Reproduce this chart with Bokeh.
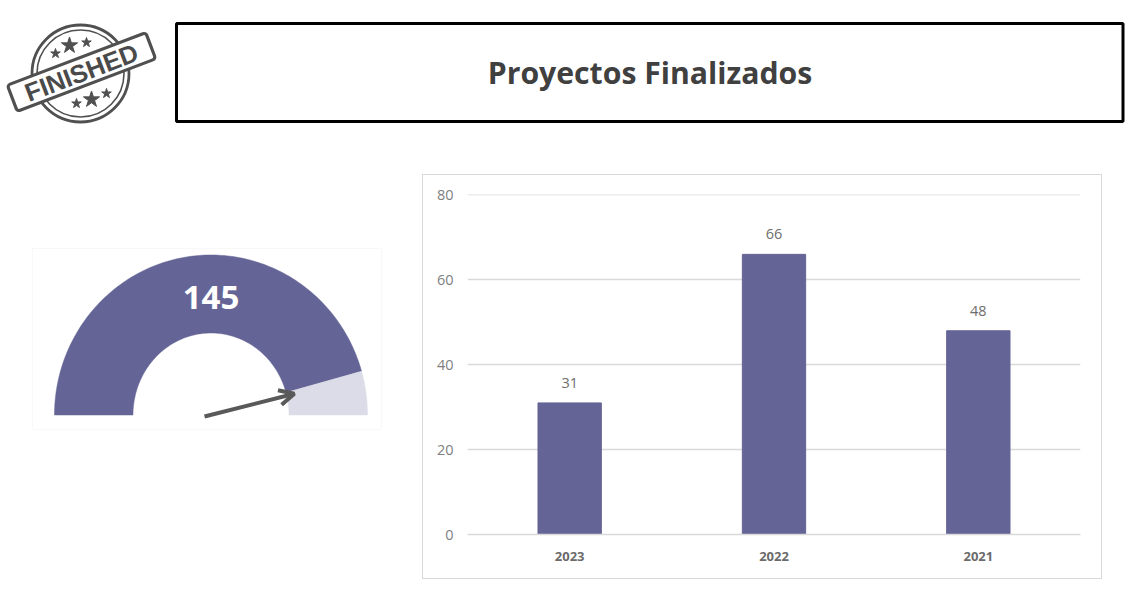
import numpy as np
from bokeh.core.properties import value
from bokeh.embed import file_html
from bokeh.layouts import column, row
from bokeh.models import Arrow, FactorRange, OpenHead, Range1d
from bokeh.plotting import figure
from bokeh.resources import INLINE

title_text = "Proyectos Finalizados"
stamp_text = "FINISHED"
years = ["2023", "2022", "2021"]
projects = [31, 66, 48]
y_ticks = [0, 20, 40, 60, 80]
gauge_value = 145
gauge_max = 159

PURPLE = "#656496"
LIGHT = "#dcdce8"
FONT = "Open Sans"


def blank(w, h, xr, yr, top=0, bottom=0, **kw):
    f = figure(width=w, height=h, x_range=Range1d(*xr), y_range=Range1d(*yr),
               output_backend="svg", toolbar_location=None,
               min_border=0, min_border_left=0, min_border_right=0,
               min_border_top=top, min_border_bottom=bottom, outline_line_color=None, **kw)
    f.axis.visible = False
    f.grid.visible = False
    return f


# ---- stamp (figure pixels match the page: x 0-172, y 0-132)
stamp = blank(172, 132, (0, 172), (132, 0))
INK = "#505050"
cx, cy = 80, 73
stamp.circle(x=[cx], y=[cy], radius=48.5, fill_color=None, line_color=INK, line_width=2.8)
stamp.circle(x=[cx], y=[cy], radius=43.5, fill_color=None, line_color=INK, line_width=1.6)
ang = np.deg2rad(20.8)
stamp.rect(x=[81], y=[71.5], width=148, height=28, angle=ang, fill_color="white",
           line_color=INK, line_width=3.2, border_radius=3)
stamp.text(x=[81], y=[72], text=[stamp_text], angle=ang, text_align="center",
           text_baseline="middle", text_color="#4a4a4a", text_font=value("Liberation Sans"),
           text_font_size="25.5px", text_font_style="bold")
stamp.scatter(x=[69, 91], y=[45, 99], marker="star", size=17, fill_color=INK, line_color=INK)
stamp.scatter(x=[55, 86, 76, 106], y=[53, 42, 103, 93], marker="star", size=10,
              fill_color=INK, line_color=INK)

# ---- title box
head = blank(954, 132, (172, 1126), (132, 0))
head.quad(left=[176], right=[1122.5], top=[23], bottom=[121], fill_color="white",
          line_color="black", line_width=3)
head.text(x=[649.5], y=[71.5], text=[title_text], text_align="center", text_baseline="middle",
          text_color="#404040", text_font=value(FONT), text_font_size="30.2px",
          text_font_style="bold")

# ---- gauge (the row aligns its frames, so this one has the chart's top and bottom borders)
gauge = blank(422, 405, (0, 422), (534, 194), top=20, bottom=45, margin=(42, 0, 0, 0))
gauge.quad(left=[32], right=[381], top=[248], bottom=[429], fill_color="white",
           line_color="#f8f8f8", line_width=1)
gx, gy, rx_o, ry_o, rx_i, ry_i = 210.5, 414.5, 156.5, 160, 78, 82


def sector(a0, a1):
    t = np.linspace(a0, a1, 160)
    xs = np.r_[gx + rx_o * np.cos(t), gx + rx_i * np.cos(t[::-1])]
    ys = np.r_[gy - ry_o * np.sin(t), gy - ry_i * np.sin(t[::-1])]
    return xs, ys


split = np.pi * (1 - gauge_value / gauge_max)
xs, ys = sector(split, np.pi)
gauge.patch(xs, ys, fill_color=PURPLE, line_color=PURPLE, line_width=0.5)
xs, ys = sector(0, split)
gauge.patch(xs, ys, fill_color=LIGHT, line_color=LIGHT, line_width=0.5)
gauge.text(x=[gx], y=[297], text=[str(gauge_value)], text_align="center", text_baseline="middle",
           text_color="white", text_font=value(FONT), text_font_size="33px",
           text_font_style="bold")
tip_r = 86
gauge.add_layout(Arrow(end=OpenHead(size=15, line_color="#595959", line_width=4),
                       x_start=204, y_start=416,
                       x_end=gx + tip_r * np.cos(split * 0.9),
                       y_end=gy - tip_r * np.sin(split * 0.9),
                       line_color="#595959", line_width=4))

# ---- bars
p = figure(width=680, height=405, x_range=FactorRange(factors=years), y_range=Range1d(0, 80.1),
           output_backend="svg", toolbar_location=None, outline_line_color=None,
           min_border_left=45, min_border_right=22, min_border_top=20, min_border_bottom=45,
           border_fill_color=None, background_fill_color=None,
           margin=(42, 0, 0, 0), styles={"outline": "1.5px solid #d9d9d9", "outline-offset": "-1.5px"})
p.vbar(x=years, top=projects, width=0.31, fill_color=PURPLE, line_color=PURPLE)
p.text(x=years, y=projects, text=[str(v) for v in projects], y_offset=-20, text_align="center",
       text_baseline="middle", text_color="#6e6e6e", text_font=value(FONT),
       text_font_size="14.5px")
p.xgrid.visible = False
p.ygrid.grid_line_color = "#d9d9d9"
p.ygrid.grid_line_width = 1.5
p.yaxis.ticker = y_ticks
p.yaxis.axis_line_color = None
p.yaxis.major_tick_line_color = None
p.yaxis.major_tick_out = 0
p.yaxis.minor_tick_line_color = None
p.yaxis.major_label_standoff = 14
p.yaxis.major_label_text_font = FONT
p.yaxis.major_label_text_font_size = "14.5px"
p.yaxis.major_label_text_color = "#7f7f7f"
p.xaxis.axis_line_color = "#d9d9d9"
p.xaxis.axis_line_width = 1.5
p.xaxis.major_tick_line_color = None
p.xaxis.major_tick_out = 0
p.xaxis.minor_tick_line_color = None
p.xaxis.major_label_standoff = 17
p.xaxis.major_label_text_font = FONT
p.xaxis.major_label_text_font_size = "13px"
p.xaxis.major_label_text_font_style = "bold"
p.xaxis.major_label_text_color = "#6b6b6b"

page = column(row(stamp, head), row(gauge, p), spacing=0)
open("out.html", "w").write(file_html(page, INLINE))
